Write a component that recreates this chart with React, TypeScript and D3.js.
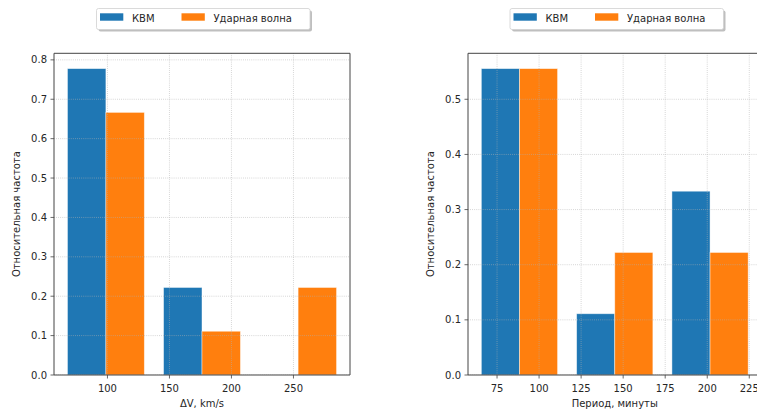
import React from "react";
import * as d3 from "d3";

const seriesNames = ["КВМ", "Ударная волна"];
const colors = ["#1f77b4", "#ff7f0e"];

// Left histogram: ΔV
const dvBins = [60, 137.5, 215, 292.5];
const dvCme = [0.7778, 0.2222, 0];
const dvShock = [0.6667, 0.1111, 0.2222];
const dvXTicks = [100, 150, 200, 250];
const dvYTicks = [0, 0.1, 0.2, 0.3, 0.4, 0.5, 0.6, 0.7, 0.8];

// Right histogram: period
const perBins = [60, 116.667, 173.333, 230];
const perCme = [0.5556, 0.1111, 0.3333];
const perShock = [0.5556, 0.2222, 0.2222];
const perXTicks = [75, 100, 125, 150, 175, 200, 225];
const perYTicks = [0, 0.1, 0.2, 0.3, 0.4, 0.5];

const FONT = "DejaVu Sans, sans-serif";
const TXT = "#262626";
const SPINE = "#444";

type PanelProps = {
  x0: number;
  x1: number;
  bins: number[];
  series: number[][];
  xTicks: number[];
  yTicks: number[];
  xLabel: string;
  yLabelX: number;
  legendX: number;
};

function Panel({ x0, x1, bins, series, xTicks, yTicks, xLabel, yLabelX, legendX }: PanelProps) {
  const top = 53.3;
  const bottom = 375;
  const nx = series.length;
  const dr = 0.8;
  // compute bar rects in data units
  const bars: { x: number; w: number; v: number; k: number }[] = [];
  for (let i = 0; i < bins.length - 1; i++) {
    const W = bins[i + 1] - bins[i];
    const width = (dr * W) / nx;
    const boff = -0.5 * dr * W * (1 - 1 / nx);
    series.forEach((s, k) => {
      const center = bins[i] + 0.5 * W + boff + k * width;
      bars.push({ x: center - width / 2, w: width, v: s[i], k });
    });
  }
  const xmin = d3.min(bars, (b) => b.x)!;
  const xmax = d3.max(bars, (b) => b.x + b.w)!;
  const pad = (xmax - xmin) * 0.05;
  const ymax = d3.max(series.flat())! * 1.05;
  const xs = d3.scaleLinear().domain([xmin - pad, xmax + pad]).range([x0, x1]);
  const ys = d3.scaleLinear().domain([0, ymax]).range([bottom, top]);
  const clipId = `clip${Math.round(x0)}`;
  const visRight = Math.min(x1, 757);
  return (
    <g>
      <defs>
        <clipPath id={clipId}>
          <rect x={x0} y={top} width={x1 - x0} height={bottom - top} />
        </clipPath>
      </defs>
      <g clipPath={`url(#${clipId})`}>
        {bars.map((b, i) =>
          b.v > 0 ? (
            <rect
              key={i}
              x={xs(b.x)}
              y={ys(b.v)}
              width={xs(b.x + b.w) - xs(b.x)}
              height={bottom - ys(b.v)}
              fill={colors[b.k]}
              stroke="#ffffff"
              strokeOpacity={0.55}
              strokeWidth={0.8}
            />
          ) : null
        )}
        {xTicks.map((t) => (
          <line key={"gx" + t} x1={xs(t)} x2={xs(t)} y1={top} y2={bottom} stroke="#b0b0b0" strokeOpacity={0.8} strokeWidth={0.8} strokeDasharray="0.8,1.3" />
        ))}
        {yTicks.map((t) => (
          <line key={"gy" + t} x1={x0} x2={x1} y1={ys(t)} y2={ys(t)} stroke="#b0b0b0" strokeOpacity={0.8} strokeWidth={0.8} strokeDasharray="0.8,1.3" />
        ))}
      </g>
      {/* spines */}
      <line x1={x0} x2={x0} y1={top} y2={bottom} stroke={SPINE} strokeWidth={1} />
      <line x1={x1} x2={x1} y1={top} y2={bottom} stroke={SPINE} strokeWidth={1} />
      <line x1={x0} x2={x1} y1={top} y2={top} stroke={SPINE} strokeWidth={1} />
      <line x1={x0} x2={x1} y1={bottom} y2={bottom} stroke={SPINE} strokeWidth={1} />
      {/* ticks */}
      {xTicks.map((t) => (
        <g key={"tx" + t}>
          <line x1={xs(t)} x2={xs(t)} y1={bottom} y2={bottom + 3.5} stroke={SPINE} strokeWidth={0.8} />
          <text x={xs(t)} y={392} textAnchor="middle" fontSize={10} fontFamily={FONT} fill={TXT}>
            {String(t)}
          </text>
        </g>
      ))}
      {yTicks.map((t) => (
        <g key={"ty" + t}>
          <line x1={x0 - 3.5} x2={x0} y1={ys(t)} y2={ys(t)} stroke={SPINE} strokeWidth={0.8} />
          <text x={x0 - 7} y={ys(t) + 3.6} textAnchor="end" fontSize={10} fontFamily={FONT} fill={TXT}>
            {t.toFixed(1)}
          </text>
        </g>
      ))}
      <text x={(x0 + visRight) / 2 + (x1 > 757 ? (x1 - visRight) / 2 : 0)} y={406.5} textAnchor="middle" fontSize={10} fontFamily={FONT} fill={TXT}>
        {xLabel}
      </text>
      <text
        transform={`translate(${yLabelX},${(top + bottom) / 2}) rotate(-90)`}
        textAnchor="middle"
        fontSize={10}
        fontFamily={FONT}
        fill={TXT}
      >
        Относительная частота
      </text>
      {/* legend */}
      <g transform={`translate(${legendX},8.5)`}>
        <rect x={2} y={2} width={213.5} height={21} rx={2} fill="#000" fillOpacity={0.25} />
        <rect x={0} y={0} width={213.5} height={21} rx={2} fill="#fff" stroke="#d0d0d0" strokeWidth={0.8} />
        {seriesNames.map((n, k) => (
          <g key={n} transform={`translate(${k === 0 ? 3.5 : 85},0)`}>
            <rect x={0} y={4.8} width={23.3} height={7.4} fill={colors[k]} />
            <text x={32} y={13.2} fontSize={10} fontFamily={FONT} fill={TXT}>
              {n}
            </text>
          </g>
        ))}
      </g>
    </g>
  );
}

export default function App() {
  return (
    <svg width={757} height={412} style={{ position: "absolute", left: 0, top: 0, background: "#fff" }}>
      <rect width={757} height={412} fill="#fff" />
      <Panel
        x0={54}
        x1={350}
        bins={dvBins}
        series={[dvCme, dvShock]}
        xTicks={dvXTicks}
        yTicks={dvYTicks}
        xLabel="ΔV, km/s"
        yLabelX={20}
        legendX={96.5}
      />
      <Panel
        x0={468}
        x1={761.5}
        bins={perBins}
        series={[perCme, perShock]}
        xTicks={perXTicks}
        yTicks={perYTicks}
        xLabel="Период, минуты"
        yLabelX={434}
        legendX={510}
      />
    </svg>
  );
}
